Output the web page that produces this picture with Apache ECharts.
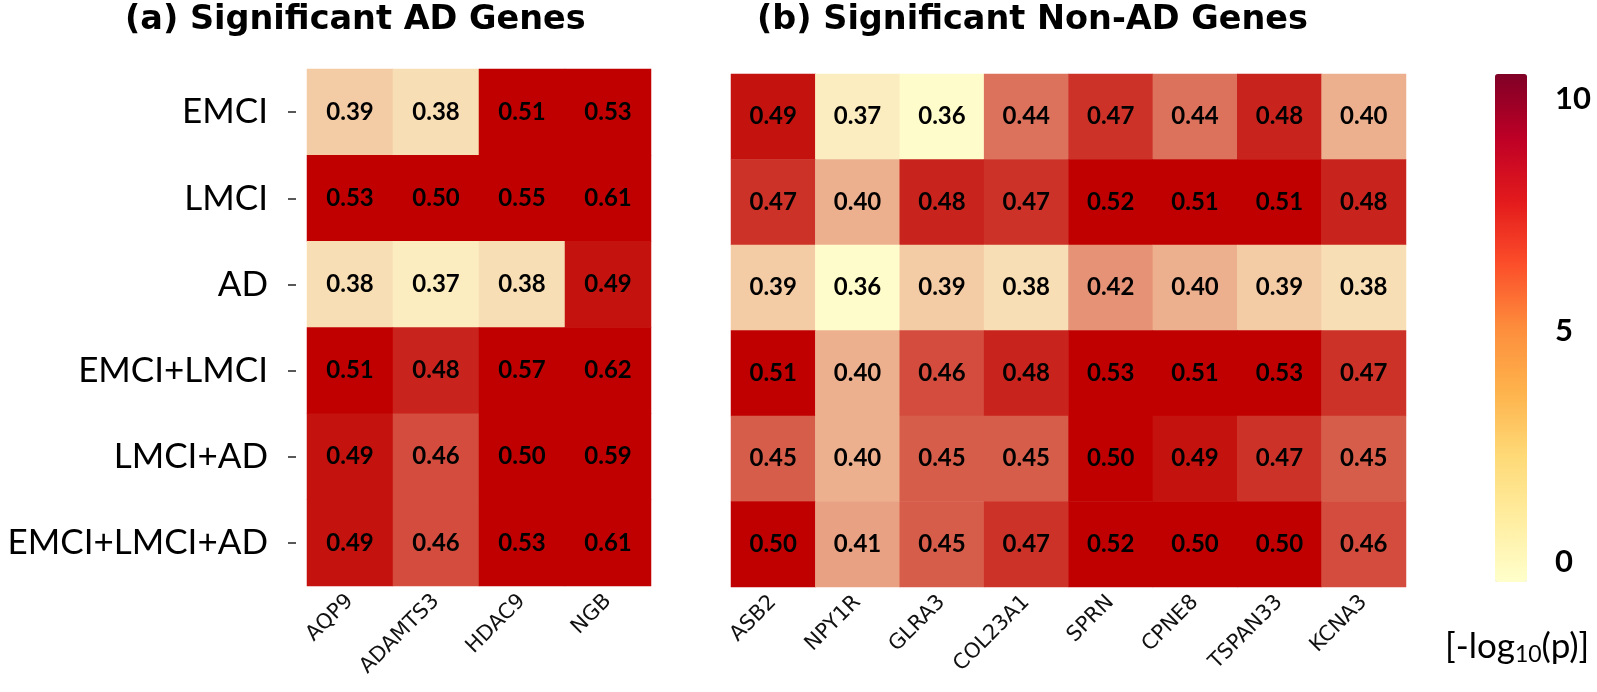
<!DOCTYPE html>
<html>
<head>
<meta charset="utf-8">
<script src="https://cdn.jsdelivr.net/npm/echarts@6/dist/echarts.min.js"></script>
<style>
html,body{margin:0;padding:0;background:#fff;}
#chart{width:1597px;height:692px;}
</style>
</head>
<body>
<div id="chart"></div>
<script>
// ---- data ----
const groups = ['EMCI', 'LMCI', 'AD', 'EMCI+LMCI', 'LMCI+AD', 'EMCI+LMCI+AD'];
const adGenes = ['AQP9', 'ADAMTS3', 'HDAC9', 'NGB'];
const adValues = [
  [0.39, 0.38, 0.51, 0.53],
  [0.53, 0.50, 0.55, 0.61],
  [0.38, 0.37, 0.38, 0.49],
  [0.51, 0.48, 0.57, 0.62],
  [0.49, 0.46, 0.50, 0.59],
  [0.49, 0.46, 0.53, 0.61]
];
const nonAdGenes = ['ASB2', 'NPY1R', 'GLRA3', 'COL23A1', 'SPRN', 'CPNE8', 'TSPAN33', 'KCNA3'];
const nonAdValues = [
  [0.49, 0.37, 0.36, 0.44, 0.47, 0.44, 0.48, 0.40],
  [0.47, 0.40, 0.48, 0.47, 0.52, 0.51, 0.51, 0.48],
  [0.39, 0.36, 0.39, 0.38, 0.42, 0.40, 0.39, 0.38],
  [0.51, 0.40, 0.46, 0.48, 0.53, 0.51, 0.53, 0.47],
  [0.45, 0.40, 0.45, 0.45, 0.50, 0.49, 0.47, 0.45],
  [0.50, 0.41, 0.45, 0.47, 0.52, 0.50, 0.50, 0.46]
];
const colorbarTicks = [0, 5, 10];
const titleA = '(a) Significant AD Genes';
const titleB = '(b) Significant Non-AD Genes';

// ---- helpers ----
function toCells(values) {
  const out = [];
  values.forEach((row, r) => row.forEach((v, c) => out.push([c, r, v])));
  return out;
}
// cell colour ramp: cream -> deep red
const rampT = [0, 0.06, 0.12, 0.19, 0.30, 0.36, 0.42, 0.49, 0.55, 0.63, 0.70, 0.80, 0.86, 0.93, 1.0];
function mix(t) {
  const a = [255, 252, 204], b = [192, 0, 0];
  const c = a.map((x, i) => Math.round(x + (b[i] - x) * t));
  return 'rgb(' + c.join(',') + ')';
}
const cellColors = rampT.map(mix);
const ylOrRd = ['#ffffcc', '#ffeda0', '#fed976', '#feb24c', '#fd8d3c', '#fc4e2a', '#e31a1c', '#bd0026', '#800026'];

const cellLabel = {
  show: true,
  color: '#000',
  fontFamily: 'Lato',
  fontWeight: 'bold',
  fontSize: 24,
  formatter: p => p.value[2].toFixed(2)
};
const xLabel = {
  rotate: 45,
  fontFamily: 'DejaVu Sans',
  fontSize: 21,
  color: '#111',
  margin: 12,
  interval: 0
};
const titleStyle = {fontFamily: 'DejaVu Sans', fontWeight: 'bold', fontSize: 33.5, color: '#000'};

const chart = echarts.init(document.getElementById('chart'), null, {renderer: 'canvas'});
chart.setOption({
  animation: false,
  backgroundColor: '#fff',
  title: [
    {text: titleA, left: 120, top: -2, textStyle: titleStyle},
    {text: titleB, left: 752, top: -2, textStyle: titleStyle},
    {text: '{a|[-log}{s|10}{a|(p)]}', left: 1440, top: 622,
     textStyle: {fontWeight: 'normal', rich: {
       a: {fontFamily: 'Lato', fontWeight: 'normal', fontSize: 35, color: '#000'},
       s: {fontFamily: 'Lato', fontWeight: 'normal', fontSize: 23, color: '#000', verticalAlign: 'bottom', padding: [16, 0, 0, 0]}
     }}}
  ],
  grid: [
    {left: 307, top: 69, width: 344, height: 517},
    {left: 731, top: 74, width: 675, height: 513},
    {left: 1526, top: 99, width: 1, height: 463}
  ],
  xAxis: [
    {type: 'category', gridIndex: 0, data: adGenes, axisLine: {show: false},
     axisTick: {show: false}, axisLabel: xLabel, splitArea: {show: false}},
    {type: 'category', gridIndex: 1, data: nonAdGenes, axisLine: {show: false},
     axisTick: {show: false}, axisLabel: xLabel, splitArea: {show: false}},
    {type: 'value', gridIndex: 2, show: false}
  ],
  yAxis: [
    {type: 'category', gridIndex: 0, data: groups, inverse: true, offset: 11,
     axisLine: {show: false},
     axisTick: {show: true, alignWithLabel: true, length: 8, lineStyle: {color: '#222', width: 1.5}},
     axisLabel: {fontFamily: 'Lato', fontSize: 35, color: '#000', margin: 28}},
    {type: 'category', gridIndex: 1, data: groups, inverse: true,
     axisLine: {show: false}, axisTick: {show: false}, axisLabel: {show: false}},
    {type: 'value', gridIndex: 2, min: 0, max: 10, interval: 5, position: 'right',
     axisLine: {show: false}, axisTick: {show: false}, splitLine: {show: false},
     axisLabel: {fontFamily: 'Lato', fontWeight: 'bold', fontSize: 31, color: '#000', margin: 28,
                 customValues: colorbarTicks}}
  ],
  visualMap: [
    {type: 'continuous', show: false, seriesIndex: [0, 1], dimension: 2,
     min: 0.36, max: 0.50, inRange: {color: cellColors}},
    {type: 'continuous', show: true, seriesIndex: [], min: 0, max: 10,
     left: 1495, top: 74, itemWidth: 32, itemHeight: 508, padding: 0,
     calculable: false, text: null, showLabel: false, hoverLink: false,
     inRange: {color: ylOrRd}}
  ],
  series: [
    {type: 'heatmap', xAxisIndex: 0, yAxisIndex: 0, data: toCells(adValues),
     label: cellLabel, itemStyle: {borderWidth: 0}, emphasis: {disabled: true}},
    {type: 'heatmap', xAxisIndex: 1, yAxisIndex: 1, data: toCells(nonAdValues),
     label: cellLabel, itemStyle: {borderWidth: 0}, emphasis: {disabled: true}}
  ]
});
</script>
</body>
</html>
